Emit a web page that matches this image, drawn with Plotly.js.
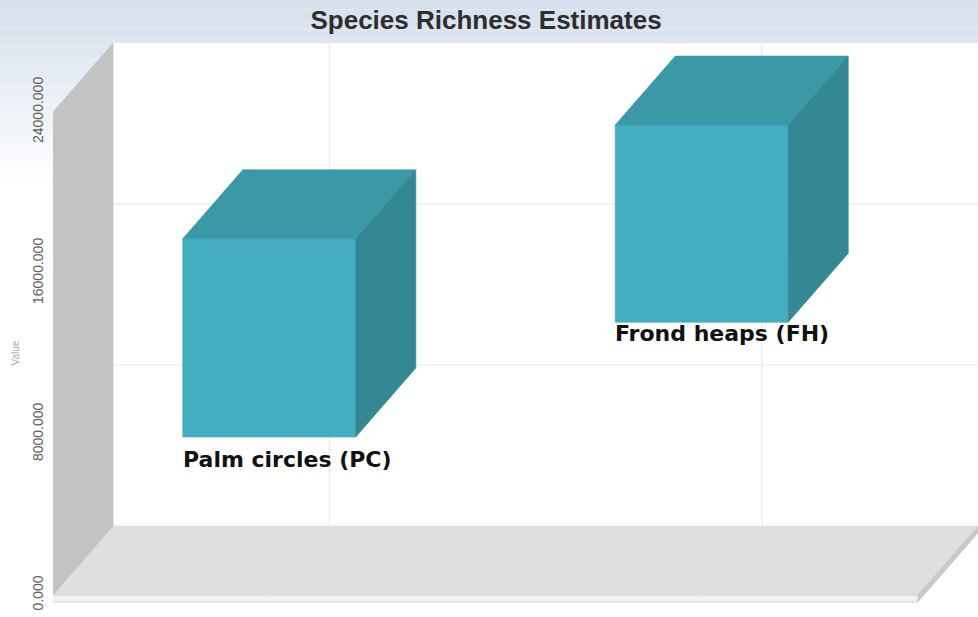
<!DOCTYPE html>
<html>
<head>
<meta charset="utf-8">
<script src="https://cdn.plot.ly/plotly-3.0.1.min.js"></script>
<style>
  html, body { margin: 0; padding: 0; background: #ffffff; }
  #chart { width: 978px; height: 617px; }
</style>
</head>
<body>
<div id="chart"></div>
<script>
// Species richness estimate ranges (lower and upper bound) per habitat
const categories = ['Palm circles (PC)', 'Frond heaps (FH)'];
const lowValues = [7850, 13550];
const highValues = [17700, 23350];
const tickValues = [0, 8000, 16000, 24000];

// Pseudo-3D geometry, in axis units
const X_MIN = -0.5, X_FRONT_MAX = 1.5, X_MAX = 1.639;
const Y_MIN = -497, WALL_TOP = 24000;
const DEPTH_X = 0.139;   // horizontal shift of the back plane
const DEPTH_Y = 3429;    // vertical shift of the back plane
const Y_MAX = WALL_TOP + DEPTH_Y;
const SLAB = 350;        // floor thickness
const HALF_W = 0.2;      // half width of a box
const LABEL_SHIFT = [-8, 3];  // vertical nudge of each box caption, px

const FRONT = '#44adbf', TOP = '#3b99a7', SIDE = '#348894';
const GRID = '#e6e6e6';

function poly(xs, ys, color) {
  return {
    x: xs.concat([xs[0]]), y: ys.concat([ys[0]]),
    type: 'scatter', mode: 'lines', fill: 'toself',
    fillcolor: color, line: { color: color, width: 0.6 },
    hoverinfo: 'skip', showlegend: false
  };
}
function seg(x0, y0, x1, y1, color) {
  return {
    x: [x0, x1], y: [y0, y1], type: 'scatter', mode: 'lines',
    line: { color: color || GRID, width: 1 }, hoverinfo: 'skip', showlegend: false
  };
}

const traces = [];

// back wall
traces.push(poly([X_MIN + DEPTH_X, X_MAX, X_MAX, X_MIN + DEPTH_X],
                 [DEPTH_Y, DEPTH_Y, Y_MAX, Y_MAX], '#ffffff'));
// back wall grid
tickValues.slice(1, -1).forEach(v => {
  traces.push(seg(X_MIN + DEPTH_X, v + DEPTH_Y, X_MAX, v + DEPTH_Y));
});
categories.forEach((c, i) => {
  traces.push(seg(i + DEPTH_X, DEPTH_Y, i + DEPTH_X, WALL_TOP + DEPTH_Y));
});

// floor slab: top, front edge, right edge
traces.push(poly([X_MIN, X_FRONT_MAX, X_FRONT_MAX + DEPTH_X, X_MIN + DEPTH_X],
                 [0, 0, DEPTH_Y, DEPTH_Y], '#dfdfdf'));
traces.push(poly([X_MIN, X_FRONT_MAX, X_FRONT_MAX, X_MIN],
                 [0, 0, -SLAB, -SLAB], '#f1f1f1'));
traces.push(seg(X_MIN, 0, X_FRONT_MAX, 0, '#d2d2d2'));
traces.push(seg(X_MIN, -SLAB, X_FRONT_MAX, -SLAB, '#d8d8d8'));
traces.push(poly([X_FRONT_MAX, X_FRONT_MAX + DEPTH_X, X_FRONT_MAX + DEPTH_X, X_FRONT_MAX],
                 [0, DEPTH_Y, DEPTH_Y - SLAB, -SLAB], '#c9c9c9'));
// floor grid
categories.forEach((c, i) => {
  traces.push(seg(i + DEPTH_X, DEPTH_Y, i, 0));
});

// left wall
traces.push(poly([X_MIN, X_MIN + DEPTH_X, X_MIN + DEPTH_X, X_MIN],
                 [0, DEPTH_Y, WALL_TOP + DEPTH_Y, WALL_TOP], '#c3c3c3'));

// floating boxes, one per category
const annotations = [];
categories.forEach((name, i) => {
  const lo = lowValues[i], hi = highValues[i];
  const xl = i - HALF_W, xr = i + HALF_W;
  traces.push(poly([xl, xr, xr, xl], [lo, lo, hi, hi], FRONT));
  traces.push(poly([xl, xr, xr + DEPTH_X, xl + DEPTH_X],
                   [hi, hi, hi + DEPTH_Y, hi + DEPTH_Y], TOP));
  traces.push(poly([xr, xr + DEPTH_X, xr + DEPTH_X, xr],
                   [lo, lo + DEPTH_Y, hi + DEPTH_Y, hi], SIDE));
  annotations.push({
    x: xl, y: lo, xref: 'x', yref: 'y', text: name, showarrow: false,
    xanchor: 'left', yanchor: 'top', xshift: -2, yshift: LABEL_SHIFT[i],
    font: { family: 'DejaVu Sans', size: 22, color: '#111111', weight: 'bold' }
  });
});

// value axis caption, centred on the front edge of the wall
annotations.push({
  x: 0, xref: 'paper', y: WALL_TOP / 2, yref: 'y', text: 'Value',
  textangle: -90, showarrow: false, xanchor: 'center', yanchor: 'middle',
  xshift: -38, font: { family: 'Liberation Sans', size: 10, color: '#a8a8a8' }
});

// soft blue-grey wash across the top of the page
const shapes = [];
const PLOT_TOP = 43, PLOT_BOTTOM = 605, PLOT_H = PLOT_BOTTOM - PLOT_TOP;
const toPaperY = p => (PLOT_BOTTOM - p) / PLOT_H;
const BANDS = 20, FADE = 190;
for (let k = 0; k < BANDS; k++) {
  const t = k / (BANDS - 1);
  const r = Math.round(214 + (255 - 214) * t);
  const g = Math.round(224 + (255 - 224) * t);
  const b = Math.round(236 + (255 - 236) * t);
  shapes.push({
    type: 'rect', xref: 'paper', yref: 'paper', layer: 'below',
    x0: -53 / 925, x1: 1,
    y0: toPaperY((k + 1) * FADE / BANDS), y1: toPaperY(k * FADE / BANDS),
    fillcolor: `rgb(${r},${g},${b})`, line: { width: 0 }
  });
}

const layout = {
  width: 978, height: 617,
  margin: { l: 53, r: 0, t: PLOT_TOP, b: 617 - PLOT_BOTTOM, pad: 0 },
  paper_bgcolor: '#ffffff', plot_bgcolor: 'rgba(0,0,0,0)',
  showlegend: false,
  title: {
    text: 'Species Richness Estimates',
    x: 0.497, xref: 'container', xanchor: 'center',
    y: 0.968, yref: 'container', yanchor: 'middle',
    font: { family: 'Liberation Sans', size: 26, color: '#2e2e2e', weight: 'bold' }
  },
  xaxis: {
    range: [X_MIN, X_MAX], showgrid: false, zeroline: false,
    showline: false, showticklabels: false, ticks: '', fixedrange: true
  },
  yaxis: {
    range: [Y_MIN, Y_MAX], tickvals: tickValues, tickformat: '.3f',
    tickangle: -90, showgrid: false, zeroline: false, showline: false,
    ticks: '', ticklabelstandoff: 6, fixedrange: true,
    tickfont: { family: 'Liberation Sans', size: 14, color: '#5e5e5e' }
  },
  shapes: shapes,
  annotations: annotations
};

Plotly.newPlot('chart', traces, layout, { displayModeBar: false, staticPlot: true });
</script>
</body>
</html>
